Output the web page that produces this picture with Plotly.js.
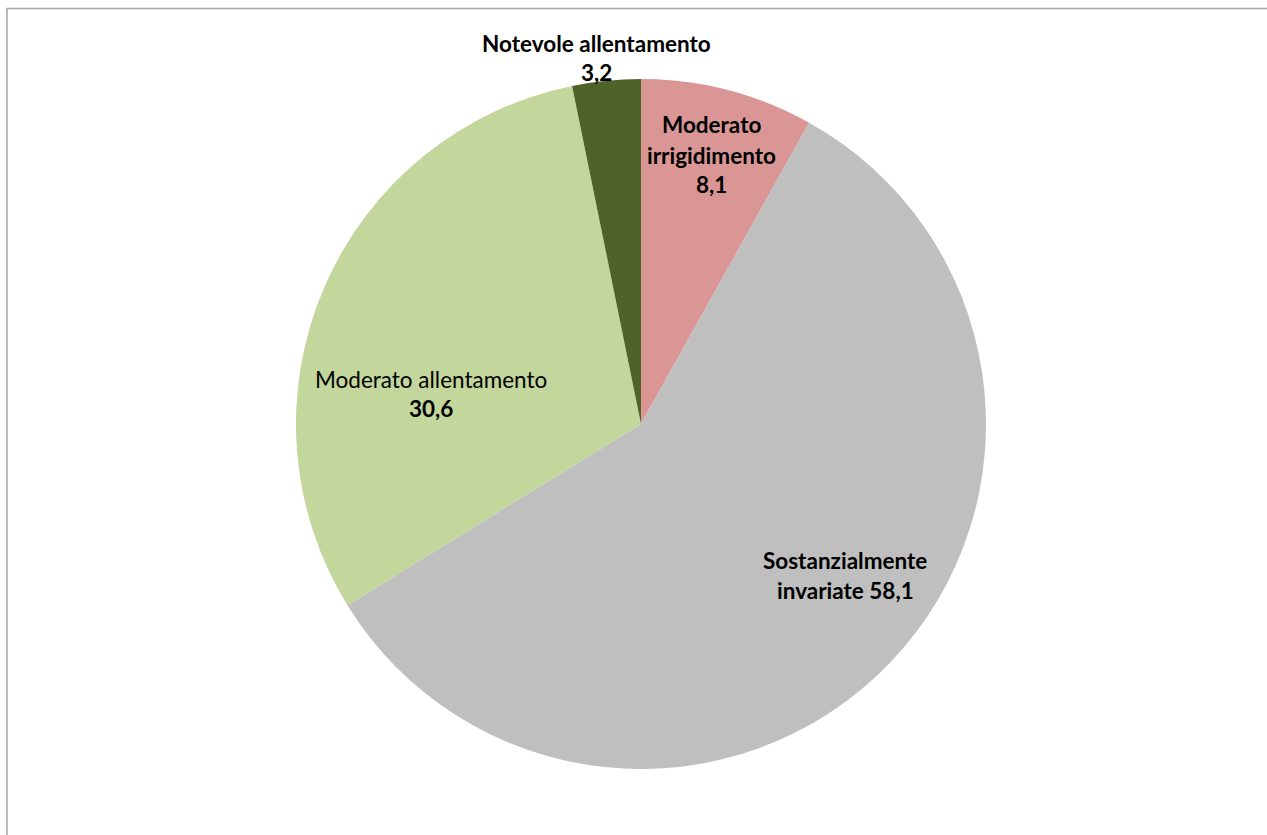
<!DOCTYPE html>
<html>
<head>
<meta charset="utf-8">
<script src="https://cdn.plot.ly/plotly-3.0.1.min.js"></script>
<style>html,body{margin:0;padding:0;background:#fff;}#chart{width:1267px;height:835px;}</style>
</head>
<body>
<div id="chart"></div>
<script>
const categories = ["Moderato irrigidimento", "Sostanzialmente invariate", "Moderato allentamento", "Notevole allentamento"];
const values = [8.1, 58.1, 30.6, 3.2];
const valueLabels = ["8,1", "58,1", "30,6", "3,2"];
const colors = ["#D99694", "#BFBFBF", "#C3D69B", "#4F6228"];

const W = 1267, H = 835;
const FONT = "Lato, 'Open Sans', sans-serif";
const FS = 22.5;
function px(x){return x / W;}
function py(y){return 1 - y / H;}
function ann(text, x, y, bold){
  return {text: bold ? "<b>" + text + "</b>" : text, x: px(x), y: py(y), xref: "paper", yref: "paper",
    xanchor: "center", yanchor: "middle", showarrow: false,
    font: {family: FONT, size: FS, color: "#000"}};
}

const annotations = [
  ann("Notevole allentamento", 596, 44, true),
  ann(valueLabels[3], 596, 72, true),
  ann("Moderato", 712, 125, true),
  ann("irrigidimento", 712, 155, true),
  ann(valueLabels[0], 712, 184, true),
  ann("Moderato allentamento", 431, 379, false),
  ann(valueLabels[2], 431, 408, true),
  ann("Sostanzialmente", 845, 560, true),
  ann("invariate " + valueLabels[1], 845, 590, true)
];

const trace = {
  type: "pie",
  labels: categories,
  values: values,
  sort: false,
  direction: "clockwise",
  rotation: 0,
  textinfo: "none",
  hoverinfo: "label+value",
  marker: {colors: colors, line: {width: 0}},
  domain: {x: [px(296), px(986)], y: [py(769), py(79)]},
  showlegend: false
};

const layout = {
  width: W, height: H,
  margin: {l: 0, r: 0, t: 0, b: 0},
  paper_bgcolor: "#fff",
  showlegend: false,
  annotations: annotations,
  shapes: [{type: "rect", xref: "paper", yref: "paper", x0: px(7), x1: 1.05, y0: -0.05, y1: py(8.5),
    line: {color: "#A6A6A6", width: 1.5}, fillcolor: "rgba(0,0,0,0)"}]
};

Plotly.newPlot("chart", [trace], layout, {displayModeBar: false, staticPlot: true});
</script>
</body>
</html>
